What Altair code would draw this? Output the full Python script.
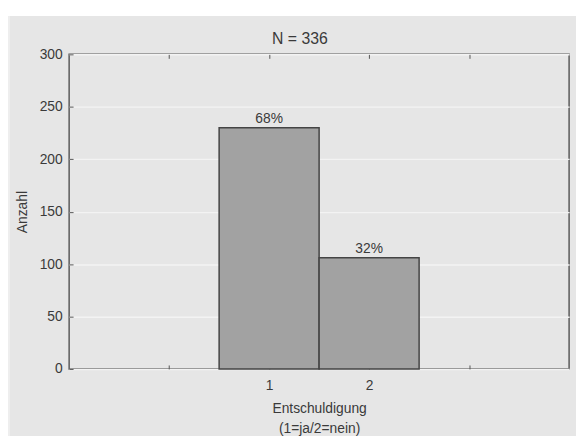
import altair as alt
import pandas as pd

categories = [1, 2]
counts = [230, 106]
percent_labels = ["68%", "32%"]
y_ticks = [0, 50, 100, 150, 200, 250, 300]
x_ticks = [0, 1, 2, 3]
title_text = ["N = 336"]

df = pd.DataFrame({"cat": categories, "count": counts, "pct": percent_labels})

FONT = "Liberation Sans"
TXT = "#3a3a3a"

base = alt.Chart(df).transform_calculate(
    x0="datum.cat - 0.5", x1="datum.cat + 0.5"
)

xscale = alt.Scale(domain=[-1, 4], nice=False, zero=False)
yscale = alt.Scale(domain=[0, 300], nice=False)

bars = base.mark_rect(fill="#a2a2a2", stroke="#444444", strokeWidth=1.5).encode(
    x=alt.X("x0:Q", scale=xscale,
            axis=alt.Axis(values=x_ticks, orient="bottom",
                          labelExpr="(datum.value == 1 || datum.value == 2) ? datum.label : ''",
                          tickSize=4, offset=-4, domain=False, grid=False,
                          labelPadding=10, tickColor="#555555",
                          title=["Entschuldigung", "(1=ja/2=nein)"],
                          titlePadding=9, titleLineHeight=20)),
    x2="x1:Q",
    y=alt.Y("count:Q", scale=yscale,
            axis=alt.Axis(values=y_ticks, orient="left", tickSize=4, offset=-4,
                          domain=False, grid=True, gridColor="#f3f3f3", gridWidth=1.5,
                          labelPadding=7, tickColor="#555555",
                          title="Anzahl", titlePadding=10)),
    y2=alt.datum(0),
)

labels = base.mark_text(baseline="bottom", dy=-2, fontSize=14, font=FONT, color=TXT).encode(
    x=alt.X("cat:Q", scale=xscale,
            axis=alt.Axis(values=x_ticks, orient="top", labels=False, tickSize=4,
                          offset=-4, domain=False, grid=False, tickColor="#555555",
                          title=None)),
    y=alt.Y("count:Q", scale=yscale),
    text="pct:N",
)

title = alt.Chart(pd.DataFrame({"t": title_text})).mark_text(
    fontSize=16, font=FONT, color=TXT, align="center", baseline="alphabetic"
).encode(x=alt.value(234), y=alt.value(-11), text="t:N")

topstrip = alt.Chart(alt.Data(values=[{}])).mark_rect(color="white").encode(
    x=alt.value(-80), x2=alt.value(530), y=alt.value(-60), y2=alt.value(-39)
)
leftstrip = alt.Chart(alt.Data(values=[{}])).mark_rect(color="#eeeeee").encode(
    x=alt.value(-80), x2=alt.value(-60), y=alt.value(-39), y2=alt.value(400)
)

chart = alt.layer(bars, labels, title, topstrip, leftstrip).resolve_axis(x="independent").properties(
    width=507,
    height=319,
    autosize=alt.AutoSizeParams(type="none"),
    padding={"left": 62, "top": 44, "right": 7, "bottom": 65},
    background="#e6e6e6",
).configure_view(
    stroke="#5a5a5a", strokeWidth=1.5, fill="#e6e6e6"
).configure_axis(
    labelFont=FONT, titleFont=FONT, labelFontSize=14, titleFontSize=14,
    labelColor=TXT, titleColor=TXT, titleFontWeight="normal"
)

chart.save("out.html", embed_options={"renderer": "svg", "actions": False})
